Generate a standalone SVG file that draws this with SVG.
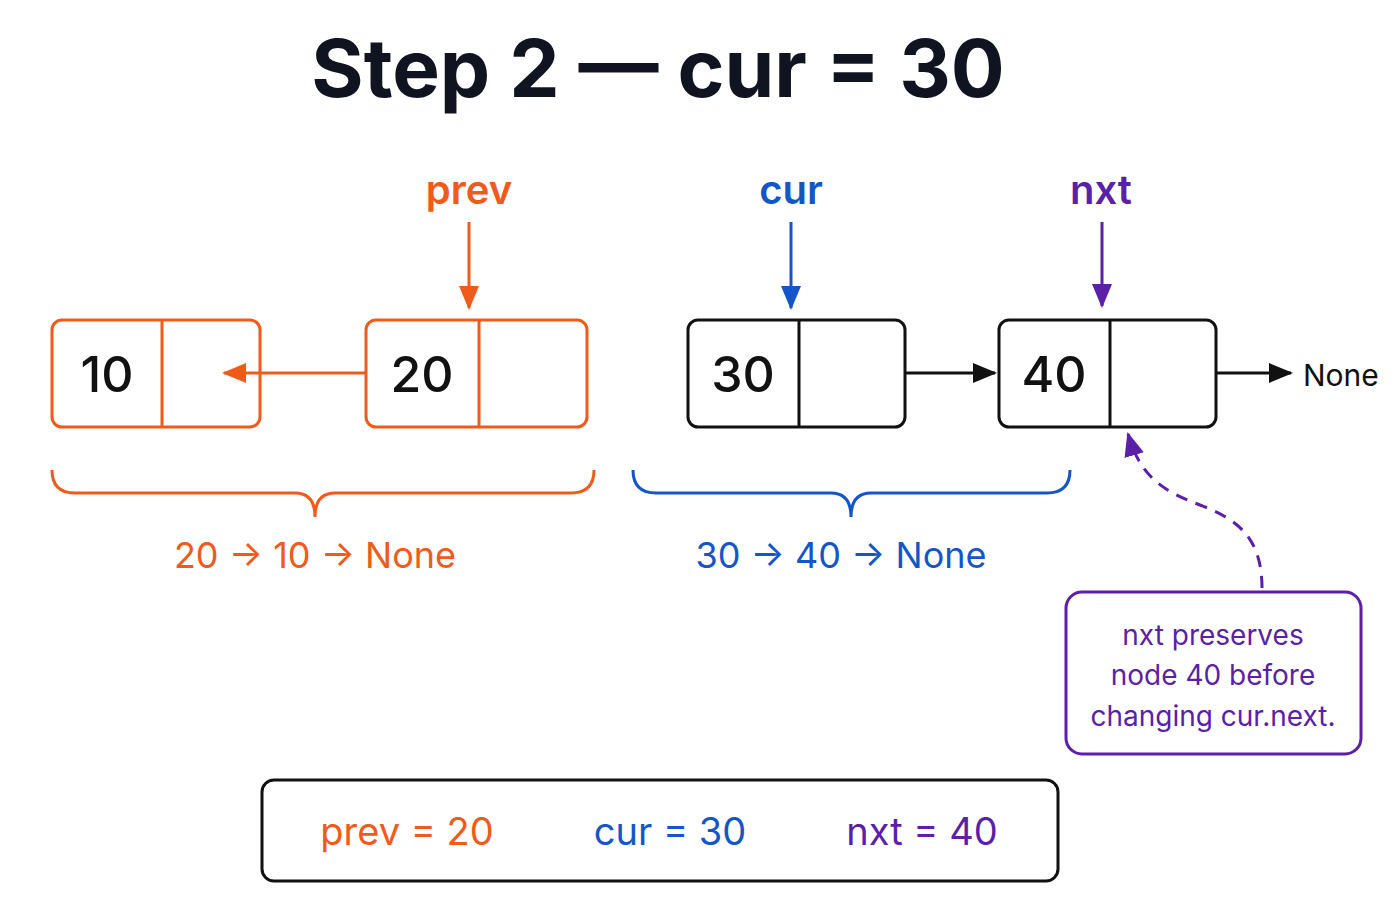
<svg xmlns="http://www.w3.org/2000/svg" width="1400" height="900" viewBox="0 0 1400 900">
<defs>
<style>
text{font-family:Inter,"Liberation Sans",sans-serif}
.o{stroke:#F05A1A;fill:none;stroke-width:3}
.k{stroke:#111;fill:none;stroke-width:3}
.b{stroke:#1456C8;fill:none;stroke-width:3}
.p{stroke:#5B1FA8;fill:none;stroke-width:3}
.num{font-size:50px;font-weight:500;fill:#111}
</style>
<marker id="ao" viewBox="0 0 10 10" refX="9" refY="5" markerWidth="8" markerHeight="8" markerUnits="userSpaceOnUse" orient="auto" style="overflow:visible"><path d="M0,0L10,5L0,10z" fill="#F05A1A" transform="scale(2.4)"/></marker>
<marker id="ak" viewBox="0 0 24 24" refX="22" refY="12" markerWidth="24" markerHeight="24" markerUnits="userSpaceOnUse" orient="auto"><path d="M0,2L24,12L0,22z" fill="#111"/></marker>
<marker id="ab" viewBox="0 0 24 24" refX="22" refY="12" markerWidth="24" markerHeight="24" markerUnits="userSpaceOnUse" orient="auto"><path d="M0,2L24,12L0,22z" fill="#1456C8"/></marker>
<marker id="ap" viewBox="0 0 24 24" refX="22" refY="12" markerWidth="24" markerHeight="24" markerUnits="userSpaceOnUse" orient="auto"><path d="M0,2L24,12L0,22z" fill="#5B1FA8"/></marker>
<marker id="ao2" viewBox="0 0 24 24" refX="22" refY="12" markerWidth="24" markerHeight="24" markerUnits="userSpaceOnUse" orient="auto"><path d="M0,2L24,12L0,22z" fill="#F05A1A"/></marker>
</defs>
<rect width="1400" height="900" fill="#fff"/>
<text x="658" y="97" text-anchor="middle" font-size="80" font-weight="700" fill="#0f1420">Step 2 — cur = 30</text>

<g id="connectors">
<line x1="366" y1="373" x2="224" y2="373" class="o" marker-end="url(#ao2)"/>
<line x1="905" y1="373" x2="995" y2="373" class="k" marker-end="url(#ak)"/>
<line x1="1216" y1="373" x2="1291" y2="373" class="k" marker-end="url(#ak)"/>
<line x1="469" y1="222" x2="469" y2="308" class="o" marker-end="url(#ao2)"/>
<line x1="791" y1="222" x2="791" y2="308" class="b" marker-end="url(#ab)"/>
<line x1="1102" y1="222" x2="1102" y2="306" class="p" marker-end="url(#ap)"/>
<path d="M1262,588 C1262,540 1240,520 1200,505 C1160,490 1140,475 1128,434" class="p" stroke-dasharray="12 9" marker-end="url(#ap)"/>
</g>

<g id="labels">
<text x="469" y="204" text-anchor="middle" font-size="40" font-weight="600" fill="#F05A1A">prev</text>
<text x="791" y="204" text-anchor="middle" font-size="40" font-weight="600" fill="#1456C8">cur</text>
<text x="1101" y="204" text-anchor="middle" font-size="40" font-weight="600" fill="#5B1FA8">nxt</text>
<text x="1303" y="386" font-size="30" fill="#111">None</text>
</g>

<g id="node10"><rect x="52" y="320" width="208" height="107" rx="10" class="o"/><line x1="162" y1="320" x2="162" y2="427" class="o"/><text x="107" y="392" text-anchor="middle" class="num">10</text></g>
<g id="node20"><rect x="366" y="320" width="221" height="107" rx="10" class="o"/><line x1="479" y1="320" x2="479" y2="427" class="o"/><text x="422" y="392" text-anchor="middle" class="num">20</text></g>
<g id="node30"><rect x="688" y="320" width="217" height="107" rx="10" class="k"/><line x1="799" y1="320" x2="799" y2="427" class="k"/><text x="743" y="392" text-anchor="middle" class="num">30</text></g>
<g id="node40"><rect x="999" y="320" width="217" height="107" rx="10" class="k"/><line x1="1110" y1="320" x2="1110" y2="427" class="k"/><text x="1054" y="392" text-anchor="middle" class="num">40</text></g>

<g id="braces">
<path d="M52,470 Q52,493 75,493 L295,493 Q315,493 315,517 Q315,493 335,493 L571,493 Q594,493 594,470" class="o"/>
<path d="M633,470 Q633,493 656,493 L831,493 Q851,493 851,517 Q851,493 871,493 L1047,493 Q1070,493 1070,470" class="b"/>
<text x="315" y="568" text-anchor="middle" font-size="36" fill="#F05A1A" xml:space="preserve">20 → 10 → None</text>
<text x="841" y="568" text-anchor="middle" font-size="36" fill="#1456C8">30 → 40 → None</text>
</g>

<g id="callout">
<rect x="1066" y="592" width="295" height="162" rx="16" class="p"/>
<text text-anchor="middle" font-size="28" fill="#5B1FA8"><tspan x="1213" y="645">nxt  preserves</tspan><tspan x="1213" y="685">node 40 before</tspan><tspan x="1213" y="726">changing cur.next.</tspan></text>
</g>

<g id="summary">
<rect x="262" y="780" width="796" height="101" rx="12" class="k"/>
<text x="407" y="845" text-anchor="middle" font-size="38" fill="#F05A1A">prev  =  20</text>
<text x="670" y="845" text-anchor="middle" font-size="38" fill="#1456C8">cur  =  30</text>
<text x="922" y="845" text-anchor="middle" font-size="38" fill="#5B1FA8">nxt  =  40</text>
</g>
</svg>
